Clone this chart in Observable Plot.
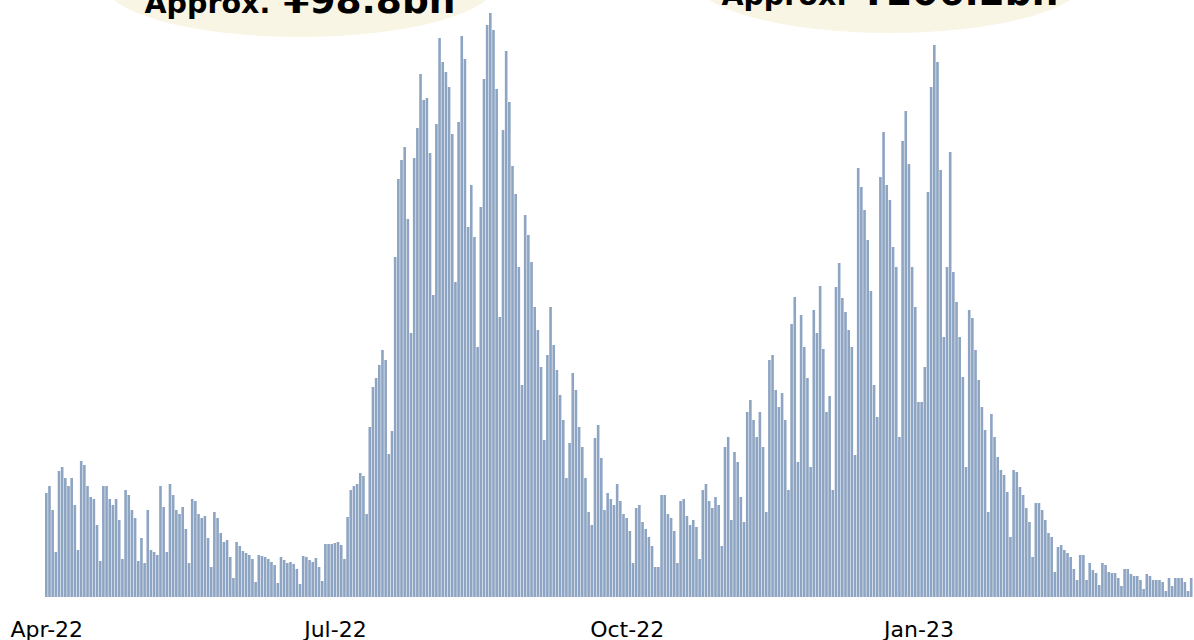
<!DOCTYPE html>
<html>
<head>
<meta charset="utf-8">
<script src="https://cdn.jsdelivr.net/npm/d3@7"></script>
<script src="https://cdn.jsdelivr.net/npm/@observablehq/plot@0.6"></script>
<style>
  html, body { margin: 0; padding: 0; background: #ffffff; }
  #chart { width: 1194px; height: 640px; overflow: hidden; }
</style>
</head>
<body>
<div id="chart"></div>
<script>
// Daily values (bar heights, relative units), one per day starting 2022-04-01
const startDate = "2022-04-01";
const dailyValues = [
  104,111,87,45,126,130,119,111,119,92,47,136,132,111,100,98,72,36,111,111,98,92,98,77,38,107,102,87,79,36,
  59,34,87,47,45,42,111,90,45,113,102,87,83,90,68,34,98,96,83,79,81,59,30,85,79,64,55,57,40,19,55,51,
  46,44,42,38,
  15,42,41,40,38,35,32,
  14,40,37,34,35,33,28,
  13,41,40,37,35,39,30,
  16,53,53,53,54,55,52,
  38,80,107,111,113,124,121,
  83,170,210,219,232,247,237,
  143,166,340,418,437,450,378,
  264,439,469,523,497,499,444,
  302,473,559,535,525,510,463,
  315,475,561,538,370,412,360,
  250,390,518,572,584,567,508,
  280,467,546,495,431,403,330,
  212,382,362,335,290,267,230,
  157,242,290,252,227,202,177,
  119,154,224,207,170,150,119,
  85,72,159,172,139,87,104,
  98,92,113,96,83,79,66,
  34,89,92,75,68,60,51,
  30,30,102,102,83,79,66,
  34,96,98,81,72,77,70,
  38,107,113,96,89,100,92,
  51,150,160,77,145,135,100,
  75,185,197,177,160,185,150,
  85,237,242,207,190,204,177,
  107,273,300,135,282,250,219,
  130,287,264,311,248,185,201,
  107,310,334,299,285,267,250,
  142,429,410,387,357,306,212,
  180,420,465,412,397,350,330,
  160,456,486,433,330,290,195,
  195,230,405,510,552,535,427,
  260,330,445,325,295,260,220,
  130,287,279,247,217,190,167,
  85,183,160,140,127,122,105,
  60,127,125,110,102,89,75,
  40,94,94,87,77,64,60,
  25,50,52,47,44,40,28,
  17,42,42,17,34,27,24,
  12,34,32,25,24,24,19,
  11,28,28,23,21,21,17,
  8,23,21,17,17,17,15,
  6,19,11,19,19,19,15,
  6,19
];
const tickDates = ["2022-04-01", "2022-07-01", "2022-10-01", "2023-01-01"];
const tickLabels = ["Apr-22", "Jul-22", "Oct-22", "Jan-23"];
const calloutDates = ["2022-06-20", "2022-12-23"];
const calloutPrefix = ["Approx.", "Approx."];
const calloutAmounts = ["¥98.8bn", "¥206.2bn"];

const fmt = d3.utcFormat("%Y-%m-%d");
const t0 = d3.utcParse("%Y-%m-%d")(startDate);
const data = dailyValues.map((v, i) => ({date: fmt(d3.utcDay.offset(t0, i)), value: v}));
const labelOf = new Map(tickDates.map((d, i) => [d, tickLabels[i]]));

const callouts = (index, scales) => {
  const g = d3.create("svg:g");
  const bw = scales.x.bandwidth ? scales.x.bandwidth() : 0;
  const cys = [-18, -22];
  const tys = [13, 5];
  calloutDates.forEach((d, i) => {
    const cx = scales.x(d) + bw / 2;
    g.append("ellipse").attr("cx", cx).attr("cy", cys[i]).attr("rx", 197).attr("ry", 55)
      .attr("fill", "#f9f5e4");
    const t = g.append("text").attr("x", cx).attr("y", tys[i]).attr("text-anchor", "middle")
      .attr("font-family", "DejaVu Sans").attr("font-weight", "bold").attr("fill", "#000");
    t.append("tspan").attr("font-size", 28.5).text(calloutPrefix[i]);
    t.append("tspan").attr("font-size", 37.5).text(" " + calloutAmounts[i]);
  });
  return g.node();
};

const chart = Plot.plot({
  width: 1194,
  height: 640,
  marginTop: 12,
  marginBottom: 43,
  marginLeft: 45,
  marginRight: 1.5,
  style: {background: "#ffffff"},
  x: {type: "band", domain: data.map(d => d.date), paddingInner: 0.18, paddingOuter: 0, axis: null},
  y: {domain: [0, 585], axis: null},
  marks: [
    callouts,
    Plot.barY(data, {x: "date", y: "value", fill: "#8da4c2"}),
    Plot.axisX({ticks: tickDates, tickFormat: d => labelOf.get(d), tickSize: 0, tickPadding: 24,
      fontSize: 22, fontFamily: "DejaVu Sans", fill: "#000", label: null})
  ]
});
document.getElementById("chart").appendChild(chart);
</script>
</body>
</html>
